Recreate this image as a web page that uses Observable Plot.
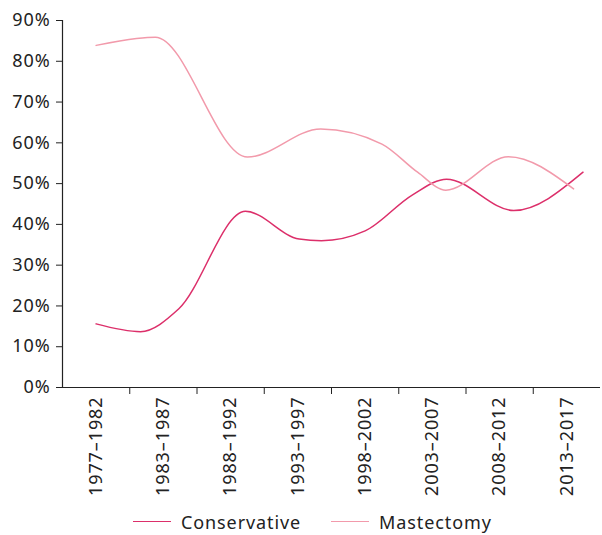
<!DOCTYPE html>
<html>
<head>
<meta charset="utf-8">
<script src="https://cdn.jsdelivr.net/npm/d3@7"></script>
<script src="https://cdn.jsdelivr.net/npm/@observablehq/plot@0.6"></script>
<style>
  body { margin: 0; background: #fff; font-family: "Noto Sans", sans-serif; }
  #chart svg { display: block; }
  .legend { display: flex; align-items: center; height: 27px; padding-left: 133px; font-size: 18px; letter-spacing: 0.9px; color: #222; }
  .legend .item { display: flex; align-items: center; margin-right: 30px; }
  .legend .sw { width: 38px; height: 0; border-top: 1.6px solid; margin-right: 10px; }
</style>
</head>
<body>
<div id="chart"></div>
<div class="legend" id="legend"></div>
<script>
// Period labels (category bands 0..8)
const periods = ["1977–1982", "1983–1987", "1988–1992", "1993–1997", "1998–2002", "2003–2007", "2008–2012", "2013–2017"];
const yTicks = [0, 10, 20, 30, 40, 50, 60, 70, 80, 90];

// Conservative surgery share (%), position in period units
const conservativeX = [0.5, 1.16, 1.73, 2.72, 3.52, 3.85, 4.5, 5.2, 5.71, 6.71, 7.74];
const conservativeY = [15.6, 13.7, 19.3, 43.2, 36.4, 36.0, 38.4, 47.2, 51.1, 43.4, 52.8];

// Mastectomy share (%)
const mastectomyX = [0.5, 1.1, 1.38, 2.75, 3.84, 4.75, 5.28, 5.7, 6.63, 7.6];
const mastectomyY = [83.9, 85.6, 85.9, 56.5, 63.4, 59.7, 52.8, 48.4, 56.6, 48.7];

const series = [
  { name: "Conservative", color: "#dc2f6a", xs: conservativeX, ys: conservativeY },
  { name: "Mastectomy", color: "#f29aab", xs: mastectomyX, ys: mastectomyY }
];

const data = series.flatMap(s => s.xs.map((x, i) => ({ series: s.name, x, y: s.ys[i] })));

const centers = periods.map((_, i) => i + 0.5);
const bounds = d3.range(1, periods.length);

const chart = Plot.plot({
  width: 602,
  height: 508,
  marginLeft: 62,
  marginRight: 2,
  marginTop: 20,
  marginBottom: 121,
  style: { fontFamily: "Noto Sans, sans-serif", fontSize: "18px", letterSpacing: "0.9px", color: "#222" },
  x: { domain: [0, periods.length], axis: null },
  y: { domain: [0, 90], axis: null },
  color: { domain: series.map(s => s.name), range: series.map(s => s.color) },
  marks: [
    Plot.axisY({ ticks: yTicks, tickSize: 6, tickPadding: 6, tickFormat: d => d + "%", label: null }),
    Plot.axisX({ ticks: bounds, tickSize: 7, tickFormat: () => "", label: null }),
    Plot.axisX({ ticks: centers, tickSize: 0, tickPadding: 9, tickRotate: -90, tickFormat: d => periods[Math.floor(d)], label: null }),
    Plot.ruleX([0], { stroke: "#222", strokeWidth: 1.2 }),
    Plot.ruleY([0], { stroke: "#222", strokeWidth: 1.2, x1: -0.06, x2: periods.length }),
    Plot.line(data, { x: "x", y: "y", z: "series", stroke: "series", strokeWidth: 1.5, curve: "monotone-x" })
  ]
});
document.getElementById("chart").appendChild(chart);

const legend = document.getElementById("legend");
for (const s of series) {
  const item = document.createElement("div");
  item.className = "item";
  const sw = document.createElement("span");
  sw.className = "sw";
  sw.style.borderColor = s.color;
  const t = document.createElement("span");
  t.textContent = s.name;
  item.append(sw, t);
  legend.append(item);
}
</script>
</body>
</html>
